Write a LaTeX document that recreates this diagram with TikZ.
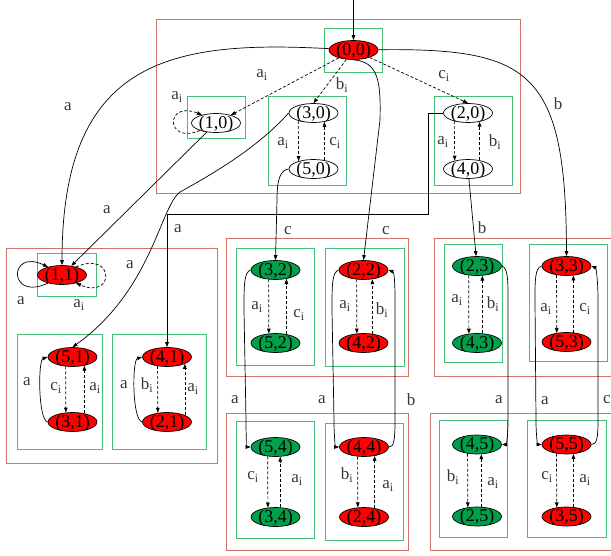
\documentclass[tikz,border=0pt]{standalone}
\usepackage{fontspec}
\setmainfont{Liberation Serif}
\usetikzlibrary{arrows.meta,shapes.geometric}
\definecolor{nred}{RGB}{255,0,0}
\definecolor{ngreen}{RGB}{0,160,75}
\definecolor{gboxc}{RGB}{70,190,120}
\definecolor{rboxc}{RGB}{210,115,105}
\begin{document}
\begin{tikzpicture}[x=1pt,y=-1pt,
  state/.style={draw, ellipse, minimum width=49pt, minimum height=19pt, inner sep=0pt,
    text height=10pt, text depth=0pt, font=\fontsize{18}{18}\selectfont, line width=0.7pt},
  rs/.style={state, fill=nred},
  gs/.style={state, fill=ngreen},
  ws/.style={state, fill=white},
  edge/.style={-{Triangle[length=5pt,width=3.6pt]}, line width=0.7pt},
  dedge/.style={edge, dash pattern=on 3pt off 2pt},
  lbl/.style={font=\fontsize{17}{17}\selectfont, text=black!78, inner sep=0pt},
  rb/.style={draw=rboxc, line width=0.9pt},
  gb/.style={draw=gboxc, line width=0.9pt}]
\useasboundingbox (0,0) rectangle (611,555);

% cluster boxes
\draw[rb] (156,19) rectangle (520,193);
\draw[gb] (324,28) rectangle (382,72);
\draw[gb] (187,96) rectangle (245,138);
\draw[gb] (268,96) rectangle (346,185);
\draw[gb] (434,96) rectangle (512,185);
\draw[rb] (6,248) rectangle (217,463);
\draw[gb] (37,253) rectangle (96,296);
\draw[gb] (17,334) rectangle (102,449);
\draw[gb] (112,334) rectangle (206,449);
\draw[rb] (226,238) rectangle (408,376);
\draw[gb] (236,248) rectangle (314,365);
\draw[gb] (325,248) rectangle (404,366);
\draw[rb] (434,238) rectangle (620,376);
\draw[gb] (444,244) rectangle (502,362);
\draw[gb] (529,244) rectangle (607,361);
\draw[rb] (226,413) rectangle (408,550);
\draw[gb] (236,421) rectangle (314,538);
\draw[gb] (325,423) rectangle (403,540);
\draw[rb] (430,413) rectangle (620,550);
\draw[gb] (439,420) rectangle (507,537);
\draw[gb] (527,420) rectangle (606,537);

% states
\node[rs] (n00) at (353.5,50) {(0,0)};
\node[ws] (n10) at (216,123) {(1,0)};
\node[ws] (n30) at (313.5,113) {(3,0)};
\node[ws] (n50) at (313.5,169) {(5,0)};
\node[ws] (n20) at (468,113) {(2,0)};
\node[ws] (n40) at (468,169) {(4,0)};
\node[rs] (n11) at (62,275) {(1,1)};
\node[rs] (n51) at (72.5,357) {(5,1)};
\node[rs] (n31) at (72.5,422) {(3,1)};
\node[rs] (n41) at (167,357) {(4,1)};
\node[rs] (n21) at (167,422) {(2,1)};
\node[gs] (n32) at (275.5,270) {(3,2)};
\node[gs] (n52) at (275.5,343) {(5,2)};
\node[rs] (n22) at (363.5,270) {(2,2)};
\node[rs] (n42) at (363.5,343) {(4,2)};
\node[gs] (n23) at (477,266) {(2,3)};
\node[gs] (n43) at (477,343) {(4,3)};
\node[rs] (n33) at (566.5,266) {(3,3)};
\node[rs] (n53) at (566.5,342) {(5,3)};
\node[gs] (n54) at (275.5,447) {(5,4)};
\node[gs] (n34) at (275.5,517) {(3,4)};
\node[rs] (n44) at (364,447) {(4,4)};
\node[rs] (n24) at (364,517) {(2,4)};
\node[gs] (n45) at (477,444.5) {(4,5)};
\node[gs] (n25) at (477,516.5) {(2,5)};
\node[rs] (n55) at (566.5,444.5) {(5,5)};
\node[rs] (n35) at (566.5,516.5) {(3,5)};

% entry
\coordinate (entry) at (353.5,0);
\draw[edge] (entry) -- (n00);

% top cluster
\draw[dedge] (n00) -- (n10);
\draw[dedge] (n00) -- (n30.north);
\draw[dedge] (n00) -- (n20.north);
\draw[dedge] (n10.205) .. controls (165,145) and (165,100) .. (n10.150);
\draw[dedge] (n30.207.8) -- (n50.152.2);
\draw[dedge] (n50.39.3) -- (n30.-39.3);
\draw[dedge] (n20.211.8) -- (n40.148.2);
\draw[dedge] (n40.37.7) -- (n20.-37.7);

% long edges from top cluster
\draw[edge] (n00) .. controls (170,40) and (62,60) .. (n11.north);
\draw[edge] (n00) .. controls (530,48) and (566,70) .. (n33.north);
\draw[edge] (n00.south) .. controls (378,62) and (381,80) .. (380,120) -- (n22.north);
\draw[edge] (n10) -- (n11);
\draw[edge] (n30.west) .. controls (260,145) and (220,170) .. (180,192)
  .. controls (160,207) and (152,290) .. (n51.north);
\draw[edge] (n20.west) -- (428,113) -- (428,214) -- (167,214) -- (n41.north);
\draw[edge] (n50.west) .. controls (280,170) and (277,180) .. (277,200) -- (n32.north);
\draw[edge] (n40) -- (n23);

% cluster 1
\draw[edge] (n11.210) .. controls (8,302) and (8,248) .. (n11.150);
\draw[dedge] (n11.30) .. controls (115,250) and (115,300) .. (n11.-30);
\draw[dedge] (n51.234.6) -- (n31.125.4);
\draw[dedge] (n31.36.1) -- (n51.-36.1);
\draw[edge] (n31.west) .. controls (38,420) and (38,360) .. (n51.west);
\draw[dedge] (n41.224.5) -- (n21.135.5);
\draw[dedge] (n21.21.9) -- (n41.-21.9);
\draw[edge] (n21.west) .. controls (132,420) and (132,360) .. (n41.west);

% cluster 2
\draw[dedge] (n32.234.6) -- (n52.125.4);
\draw[dedge] (n52.39.3) -- (n32.-39.3);
\draw[dedge] (n22.234.6) -- (n42.125.4);
\draw[dedge] (n42.46.3) -- (n22.-46.3);

% cluster 3
\draw[dedge] (n23.228.3) -- (n43.131.7);
\draw[dedge] (n43.61.7) -- (n23.-61.7);
\draw[dedge] (n33.222.7) -- (n53.137.3);
\draw[dedge] (n53.54.6) -- (n33.-54.6);

% cluster 4
\draw[dedge] (n54.230.3) -- (n34.129.7);
\draw[dedge] (n34.64.3) -- (n54.-64.3);
\draw[dedge] (n44.236.9) -- (n24.123.1);
\draw[dedge] (n24.40.9) -- (n44.-40.9);

% cluster 5
\draw[dedge] (n45.224.5) -- (n25.135.5);
\draw[dedge] (n25.66.9) -- (n45.-66.9);
\draw[dedge] (n55.222.7) -- (n35.137.3);
\draw[dedge] (n35.54.6) -- (n55.-54.6);

% vertical edges between lower clusters
\draw[edge] (n32.west) .. controls (244,272) and (244,285) .. (244,310) -- (246,420)
  .. controls (246,440) and (247,447) .. (n54.west);
\draw[edge] (n22.west) .. controls (332,272) and (332,285) .. (332,310) -- (334,420)
  .. controls (334,440) and (336,447) .. (n44.west);
\draw[edge] (n44.east) .. controls (394,447) and (395,440) .. (395,420) -- (395,300)
  .. controls (395,280) and (394,272) .. (n22.east);
\draw[edge] (n23.east) .. controls (508,268) and (508,280) .. (508,300) -- (508,420)
  .. controls (508,438) and (506,444.5) .. (n45.east);
\draw[edge] (n33.west) .. controls (535,268) and (535,280) .. (535,300) -- (536,420)
  .. controls (536,438) and (538,444.5) .. (n55.west);
\draw[edge] (n55.east) .. controls (597,444.5) and (598,438) .. (598,420) -- (598,300)
  .. controls (598,280) and (596,268) .. (n33.east);

% labels
\node[lbl] (t1) at (262,75) {a\textsubscript{i}};
\node[lbl] (t2) at (342,85) {b\textsubscript{i}};
\node[lbl] (t3) at (444,76) {c\textsubscript{i}};
\node[lbl] (t4) at (177,97) {a\textsubscript{i}};
\node[lbl] (t5) at (283,143) {a\textsubscript{i}};
\node[lbl] (t6) at (335,143) {c\textsubscript{i}};
\node[lbl] (t7) at (443,142) {a\textsubscript{i}};
\node[lbl] (t8) at (495,142) {b\textsubscript{i}};
\node[lbl] (u1) at (68,107) {a};
\node[lbl] (u2) at (558,104) {b};
\node[lbl] (u3) at (386,231) {c};
\node[lbl] (u4) at (107,210) {a};
\node[lbl] (u5) at (130,265) {a};
\node[lbl] (u6) at (178,229) {a};
\node[lbl] (u7) at (288,231) {c};
\node[lbl] (u8) at (482,228) {b};
\node[lbl] (v1) at (21,301) {a};
\node[lbl] (v2) at (79,305) {a\textsubscript{i}};
\node[lbl] (v3) at (27,382) {a};
\node[lbl] (v4) at (56,388) {c\textsubscript{i}};
\node[lbl] (v5) at (95,388) {a\textsubscript{i}};
\node[lbl] (v6) at (124,385) {a};
\node[lbl] (v7) at (147,385) {b\textsubscript{i}};
\node[lbl] (v8) at (193,389) {a\textsubscript{i}};
\node[lbl] (w1) at (257,307) {a\textsubscript{i}};
\node[lbl] (w2) at (299,315) {c\textsubscript{i}};
\node[lbl] (w3) at (345,306) {a\textsubscript{i}};
\node[lbl] (w4) at (382,310) {b\textsubscript{i}};
\node[lbl] (x1) at (457,300) {a\textsubscript{i}};
\node[lbl] (x2) at (493,304) {b\textsubscript{i}};
\node[lbl] (x3) at (546,309) {a\textsubscript{i}};
\node[lbl] (x4) at (585,309) {c\textsubscript{i}};
\node[lbl] (y1) at (235,400) {a};
\node[lbl] (y2) at (322,400) {a};
\node[lbl] (y3) at (411,400) {b};
\node[lbl] (y4) at (499,400) {a};
\node[lbl] (y5) at (545,401) {a};
\node[lbl] (y6) at (607,400) {c};
\node[lbl] (z1) at (253,477) {c\textsubscript{i}};
\node[lbl] (z2) at (297,480) {a\textsubscript{i}};
\node[lbl] (z3) at (347,475) {b\textsubscript{i}};
\node[lbl] (z4) at (388,486) {a\textsubscript{i}};
\node[lbl] (z5) at (453,477) {b\textsubscript{i}};
\node[lbl] (z6) at (493,483) {a\textsubscript{i}};
\node[lbl] (z7) at (547,477) {c\textsubscript{i}};
\node[lbl] (z8) at (585,480) {a\textsubscript{i}};
\end{tikzpicture}
\end{document}
